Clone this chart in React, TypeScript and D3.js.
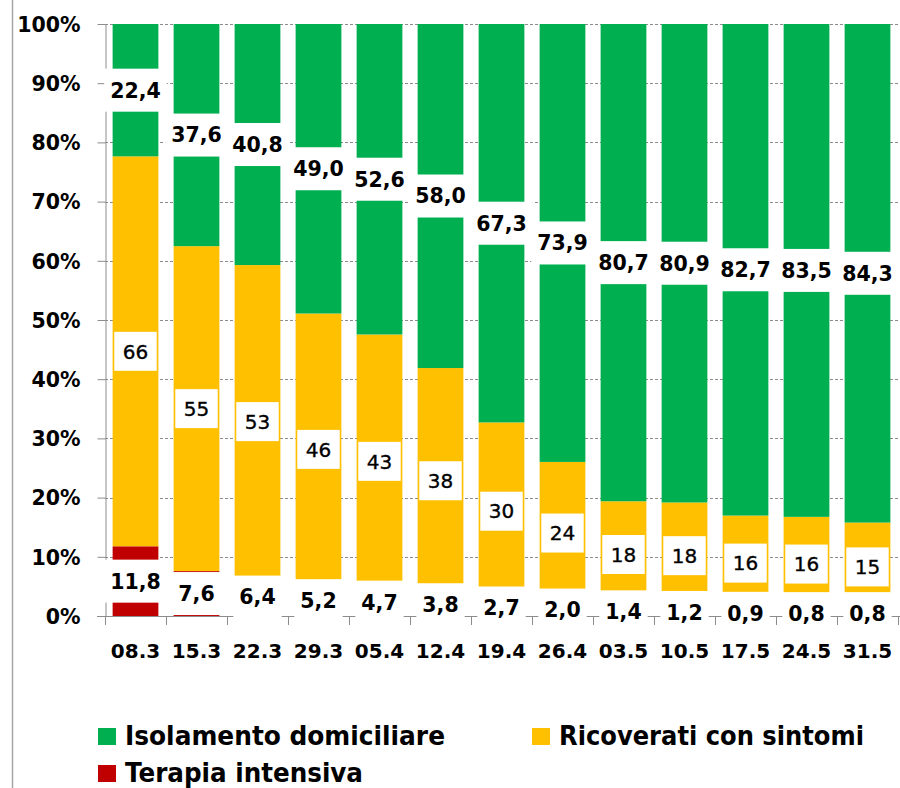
import { useEffect, useRef } from 'react'
import * as d3 from 'd3'

// settimane (asse x)
const DATES = ['08.3', '15.3', '22.3', '29.3', '05.4', '12.4', '19.4', '26.4', '03.5', '10.5', '17.5', '24.5', '31.5']
// % sul totale dei positivi
const TERAPIA = [11.8, 7.6, 6.4, 5.2, 4.7, 3.8, 2.7, 2.0, 1.4, 1.2, 0.9, 0.8, 0.8]
const RICOVERATI = [66, 55, 53, 46, 43, 38, 30, 24, 18, 18, 16, 16, 15]
const ISOLAMENTO = [22.4, 37.6, 40.8, 49.0, 52.6, 58.0, 67.3, 73.9, 80.7, 80.9, 82.7, 83.5, 84.3]
const Y_TICKS = [0, 10, 20, 30, 40, 50, 60, 70, 80, 90, 100]
const KEYS = ['terapia', 'ricoverati', 'isolamento']
const NAMES: Record<string, string> = {
  isolamento: 'Isolamento domiciliare',
  ricoverati: 'Ricoverati con sintomi',
  terapia: 'Terapia intensiva',
}

const COLORS: Record<string, string> = { terapia: '#C00000', ricoverati: '#FFC000', isolamento: '#00B050' }
const FONT = '"DejaVu Sans", Verdana, sans-serif'
const AXIS = '#8c8c8c'

export default function App() {
  const ref = useRef<SVGSVGElement | null>(null)

  useEffect(() => {
    if (!ref.current) return
    const W = 900, H = 788
    const left = 105, right = 898, top = 24, bottom = 616
    const svg = d3.select(ref.current)
    svg.selectAll('*').remove()
    svg.append('rect').attr('width', W).attr('height', H).attr('fill', '#fff')

    const rows = DATES.map((d, i) => ({ date: d, terapia: TERAPIA[i], ricoverati: RICOVERATI[i], isolamento: ISOLAMENTO[i] }))
    const stacked = d3.stack<any>().keys(KEYS).offset(d3.stackOffsetExpand)(rows)

    const x = d3.scaleBand().domain(DATES).range([left, right]).paddingInner(0.25).paddingOuter(0.125)
    const y = d3.scaleLinear().domain([0, 100]).range([bottom, top])

    // bordo del grafico
    svg.append('line').attr('x1', 12.5).attr('x2', 12.5).attr('y1', 0).attr('y2', H)
      .attr('stroke', '#a6a6a6').attr('stroke-width', 1.5)

    // griglia tratteggiata
    svg.append('g').selectAll('line').data(Y_TICKS.filter(t => t > 0)).join('line')
      .attr('x1', left).attr('x2', W).attr('y1', d => Math.round(y(d)) + 0.5).attr('y2', d => Math.round(y(d)) + 0.5)
      .attr('stroke', AXIS).attr('stroke-dasharray', '3,2')

    // barre
    const yp = (v: number) => y(v * 100)
    svg.append('g').selectAll('g').data(stacked).join('g')
      .attr('fill', s => COLORS[s.key])
      .selectAll('rect').data(s => s.map(p => ({ p, date: p.data.date }))).join('rect')
      .attr('x', d => x(d.date)!)
      .attr('width', x.bandwidth())
      .attr('y', d => yp(d.p[1]))
      .attr('height', d => yp(d.p[0]) - yp(d.p[1]))

    // asse y
    const gy = svg.append('g').attr('transform', `translate(${left + 0.5},0)`)
      .call(d3.axisLeft(y).tickValues(Y_TICKS).tickFormat(d => `${d}%`).tickSize(8).tickSizeOuter(0).tickPadding(17))
    gy.selectAll('path,line').attr('stroke', AXIS)
    gy.selectAll('text').attr('font-family', FONT).attr('font-weight', 'bold').attr('font-size', 20.5).attr('fill', '#000')
      .attr('dy', '0.36em')

    // asse x
    svg.append('line').attr('x1', left - 8).attr('x2', W).attr('y1', bottom + 0.5).attr('y2', bottom + 0.5).attr('stroke', AXIS)
    const bounds = DATES.map(d => x(d)! - x.step() * 0.125).concat([right])
    svg.append('g').selectAll('line').data(bounds).join('line')
      .attr('x1', d => Math.round(d) + 0.5).attr('x2', d => Math.round(d) + 0.5)
      .attr('y1', bottom).attr('y2', bottom + 9).attr('stroke', AXIS)
    const gx = svg.append('g').attr('transform', `translate(0,${bottom})`)
      .call(d3.axisBottom(x).tickSize(0).tickPadding(28))
    gx.select('.domain').remove()
    gx.selectAll('text').attr('font-family', FONT).attr('font-weight', 'bold').attr('font-size', 20).attr('fill', '#000')

    // etichette dati
    const fmt = (key: string, v: number) => key === 'ricoverati' ? String(v) : v.toFixed(1).replace('.', ',')
    const labels = svg.append('g')
    stacked.forEach(s => {
      const bold = s.key !== 'ricoverati'
      s.forEach((p, i) => {
        const cx = x(p.data.date)! + x.bandwidth() / 2
        const cy = yp((p[0] + p[1]) / 2)
        const g = labels.append('g')
        const rect = g.append('rect').attr('fill', '#fff')
        const t = g.append('text').attr('x', cx).attr('y', cy).attr('dy', '0.36em')
          .attr('text-anchor', 'middle').attr('font-family', FONT)
          .attr('font-weight', bold ? 'bold' : 'normal').attr('font-size', bold ? 20.5 : 20)
          .attr('fill', '#000').attr('stroke', bold ? 'none' : '#000').attr('stroke-width', 0.35)
          .text(fmt(s.key, [TERAPIA, RICOVERATI, ISOLAMENTO][KEYS.indexOf(s.key)][i]))
        const tw = (t.node() as SVGTextElement).getComputedTextLength()
        const bw = tw + (bold ? 12 : 17), bh = bold ? 43 : 39
        rect.attr('x', cx - bw / 2).attr('y', cy - bh / 2).attr('width', bw).attr('height', bh)
      })
    })

    // legenda
    const legend = [
      { key: 'isolamento', x: 98, y: 728, len: 320 },
      { key: 'ricoverati', x: 532, y: 728, len: 305 },
      { key: 'terapia', x: 98, y: 765, len: 238 },
    ]
    const lg = svg.append('g').selectAll('g').data(legend).join('g')
      .attr('transform', d => `translate(${d.x},${d.y})`)
    lg.append('rect').attr('width', 18).attr('height', 17).attr('fill', d => COLORS[d.key])
    lg.append('text').attr('x', 27).attr('y', 17).attr('font-family', FONT).attr('font-weight', 'bold')
      .attr('font-size', 26.5).attr('fill', '#000')
      .attr('textLength', d => d.len).attr('lengthAdjust', 'spacingAndGlyphs')
      .text(d => NAMES[d.key])
  }, [])

  return <svg ref={ref} width={900} height={788} style={{ position: 'absolute', left: 0, top: 0, display: 'block' }} />
}
